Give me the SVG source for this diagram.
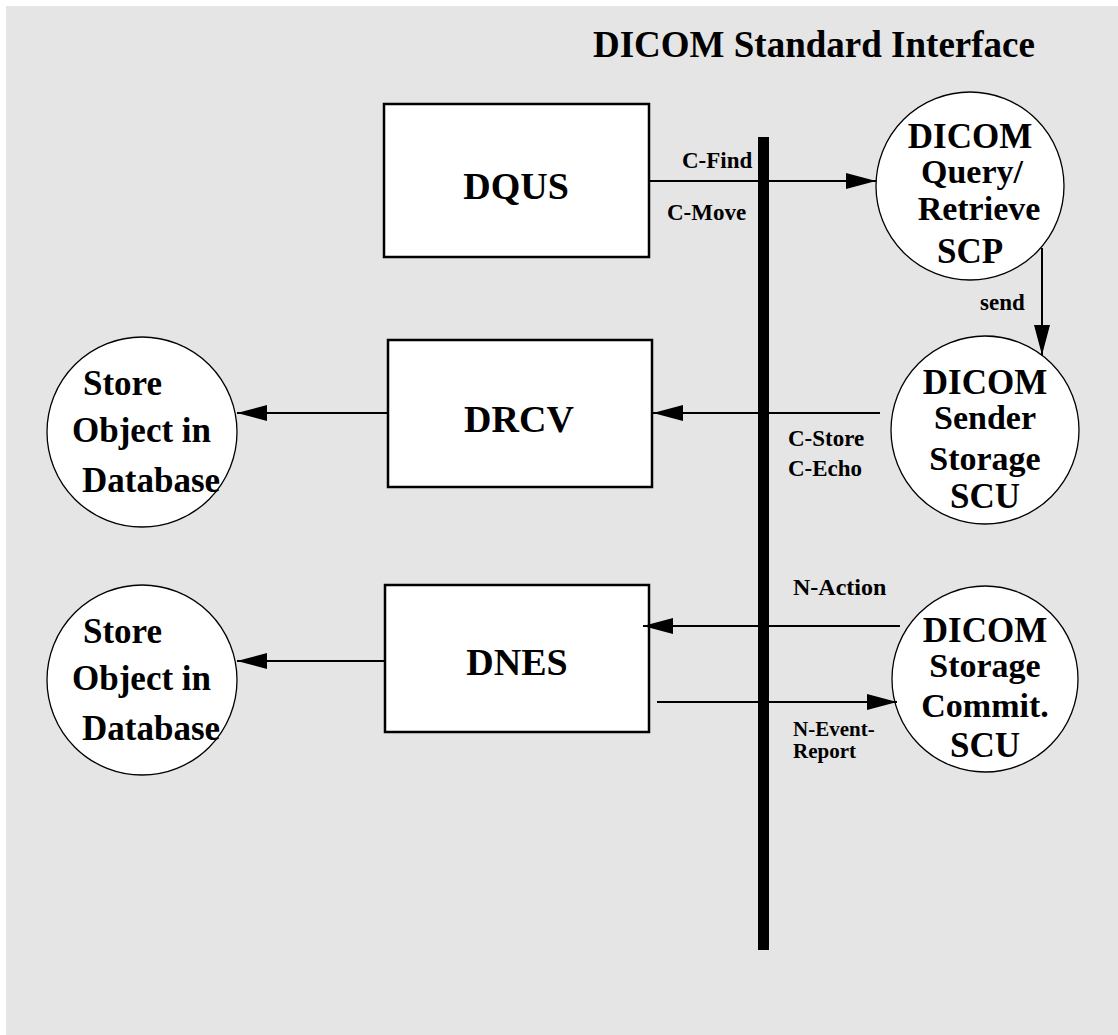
<svg xmlns="http://www.w3.org/2000/svg" width="1118" height="1035" viewBox="0 0 1118 1035">
<style>
.bg{fill:#e5e5e5}
.box{fill:#fff;stroke:#000;stroke-width:2.5}
.circ{fill:#fff;stroke:#000;stroke-width:1.3}
.t{font-family:"Liberation Serif","Times New Roman",serif;font-weight:bold;fill:#000}
.big{font-size:38px}
.cl{font-size:34px}
.dc{font-size:35px}
.lbl{font-size:23px}
.title{font-size:37px}
.c{text-anchor:middle}
.conn line{stroke:#000;stroke-width:2;marker-end:url(#ah)}
</style>
<defs>
<marker id="ah" markerUnits="userSpaceOnUse" markerWidth="30" markerHeight="16" refX="30" refY="8" orient="auto">
<path d="M0,0 L30,8 L0,16 z" fill="#000"/>
</marker>
</defs>
<rect class="bg" x="6" y="6" width="1112" height="1029"/>
<text class="t title" x="593" y="57">DICOM Standard Interface</text>
<rect id="bus" x="758" y="137" width="11" height="813" fill="#000"/>

<g id="dqus">
<rect class="box" x="384" y="104" width="265" height="153"/>
<text class="t big c" x="516" y="199">DQUS</text>
</g>
<g id="drcv">
<rect class="box" x="388" y="340" width="264" height="147"/>
<text class="t big c" x="519" y="432">DRCV</text>
</g>
<g id="dnes">
<rect class="box" x="385" y="585" width="264" height="147"/>
<text class="t big c" x="517" y="675">DNES</text>
</g>

<g id="qr-scp">
<circle class="circ" cx="970" cy="186" r="94"/>
<text class="t dc c" x="970" y="148">DICOM</text>
<text class="t cl c" x="972" y="183">Query/</text>
<text class="t cl c" x="979" y="220">Retrieve</text>
<text class="t dc c" x="970" y="263">SCP</text>
</g>
<g id="sender-scu">
<circle class="circ" cx="985" cy="430" r="94"/>
<text class="t dc c" x="985" y="394">DICOM</text>
<text class="t cl c" x="985" y="429">Sender</text>
<text class="t cl c" x="985" y="470">Storage</text>
<text class="t dc c" x="985" y="508">SCU</text>
</g>
<g id="commit-scu">
<circle class="circ" cx="985" cy="679" r="93"/>
<text class="t dc c" x="985" y="642">DICOM</text>
<text class="t cl c" x="985" y="677">Storage</text>
<text class="t cl c" x="985" y="717">Commit.</text>
<text class="t dc c" x="985" y="757">SCU</text>
</g>
<g id="store1">
<circle class="circ" cx="142" cy="432" r="95"/>
<text class="t dc" x="83" y="395">Store</text>
<text class="t dc" x="72" y="442">Object in</text>
<text class="t dc" x="82" y="492">Database</text>
</g>
<g id="store2">
<circle class="circ" cx="142" cy="680" r="95"/>
<text class="t dc" x="83" y="643">Store</text>
<text class="t dc" x="72" y="690">Object in</text>
<text class="t dc" x="82" y="740">Database</text>
</g>

<g id="connectors" class="conn">
<line x1="649" y1="181" x2="876" y2="181"/>
<line x1="1042" y1="248" x2="1042" y2="355"/>
<line x1="880" y1="413" x2="653" y2="413"/>
<line x1="388" y1="413" x2="237" y2="413"/>
<line x1="900" y1="626" x2="643" y2="626"/>
<line x1="657" y1="702" x2="897" y2="702"/>
<line x1="385" y1="661" x2="237" y2="661"/>
</g>
<g id="labels">
<text class="t lbl" x="682" y="168">C-Find</text>
<text class="t lbl" x="667" y="220">C-Move</text>
<text class="t lbl" x="980" y="310">send</text>
<text class="t lbl" x="788" y="446">C-Store</text>
<text class="t lbl" x="788" y="476">C-Echo</text>
<text class="t lbl" x="793" y="595" style="font-size:24px">N-Action</text>
<text class="t lbl" x="793" y="736" style="font-size:21px">N-Event-</text>
<text class="t lbl" x="793" y="758" style="font-size:21px">Report</text>
</g>
</svg>
